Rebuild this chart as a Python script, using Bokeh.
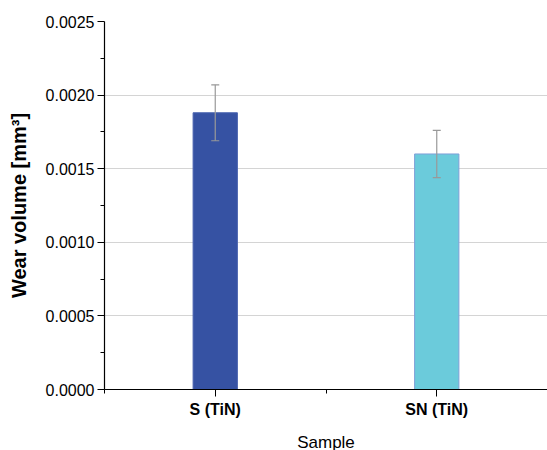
from bokeh.plotting import figure
from bokeh.models import ColumnDataSource, FixedTicker, PrintfTickFormatter, Whisker, TeeHead, Range1d
from bokeh.embed import file_html
from bokeh.resources import INLINE

categories = ["S (TiN)", "SN (TiN)"]
wear_volume = [0.00188, 0.00160]
wear_error = [0.00019, 0.00016]
bar_colors = ["#3652A3", "#6BCBDB"]
bar_edges = ["#4a64b0", "#7f9fd8"]

xs = [i + 1 for i in range(len(categories))]
src = ColumnDataSource(dict(
    x=xs, top=wear_volume,
    upper=[v + e for v, e in zip(wear_volume, wear_error)],
    lower=[v - e for v, e in zip(wear_volume, wear_error)],
    color=bar_colors, edge=bar_edges,
))

p = figure(width=547, height=454, output_backend="svg", toolbar_location=None,
           x_range=Range1d(0.5, 2.5), y_range=Range1d(0, 0.0025),
           min_border_left=104, min_border_top=21, min_border_bottom=64, min_border_right=0)
p.outline_line_color = None
p.background_fill_color = "white"

p.vbar(x="x", top="top", width=0.2, bottom=0, source=src,
       fill_color="color", line_color="edge", line_width=1)

w = Whisker(base="x", upper="upper", lower="lower", source=src,
            line_color="#999999", line_width=1.2, level="overlay",
            upper_head=TeeHead(size=8, line_color="#999999", line_width=1.2),
            lower_head=TeeHead(size=8, line_color="#999999", line_width=1.2))
p.add_layout(w)

font = "Liberation Sans"
p.xaxis.ticker = FixedTicker(ticks=xs, minor_ticks=[0.5, 1.5, 2.5])
p.xaxis.major_label_overrides = {x: c for x, c in zip(xs, categories)}
p.xaxis.axis_label = "Sample"
p.xaxis.major_label_text_font_style = "bold"
p.xaxis.major_label_text_font_size = "16px"
p.xaxis.axis_label_text_font_style = "normal"
p.xaxis.axis_label_text_font_size = "17px"
p.xaxis.axis_label_standoff = 12
p.xaxis.major_label_standoff = 4

p.yaxis.ticker = FixedTicker(ticks=[0, 0.0005, 0.001, 0.0015, 0.002, 0.0025],
                             minor_ticks=[0.00025, 0.00075, 0.00125, 0.00175, 0.00225])
p.yaxis.formatter = PrintfTickFormatter(format="%.4f")
p.yaxis.axis_label = "Wear volume [mm³]"
p.yaxis.axis_label_text_font_style = "bold"
p.yaxis.axis_label_text_font_size = "20px"
p.yaxis.major_label_text_font_size = "16px"
p.yaxis.major_label_standoff = 3
p.yaxis.axis_label_standoff = 13

for ax in (p.xaxis, p.yaxis):
    ax.axis_label_text_font = font
    ax.major_label_text_font = font
    ax.axis_line_color = "black"
    ax.axis_line_width = 1.2
    ax.major_tick_line_color = "black"
    ax.minor_tick_line_color = "black"
    ax.major_tick_out = 7
    ax.major_tick_in = 0
    ax.minor_tick_out = 4
    ax.minor_tick_in = 0
    ax.major_label_text_color = "black"
    ax.axis_label_text_color = "black"

p.xgrid.grid_line_color = None
p.ygrid.grid_line_color = "#d4d4d4"
p.ygrid.grid_line_width = 1

open("out.html", "w").write(file_html(p, INLINE))
